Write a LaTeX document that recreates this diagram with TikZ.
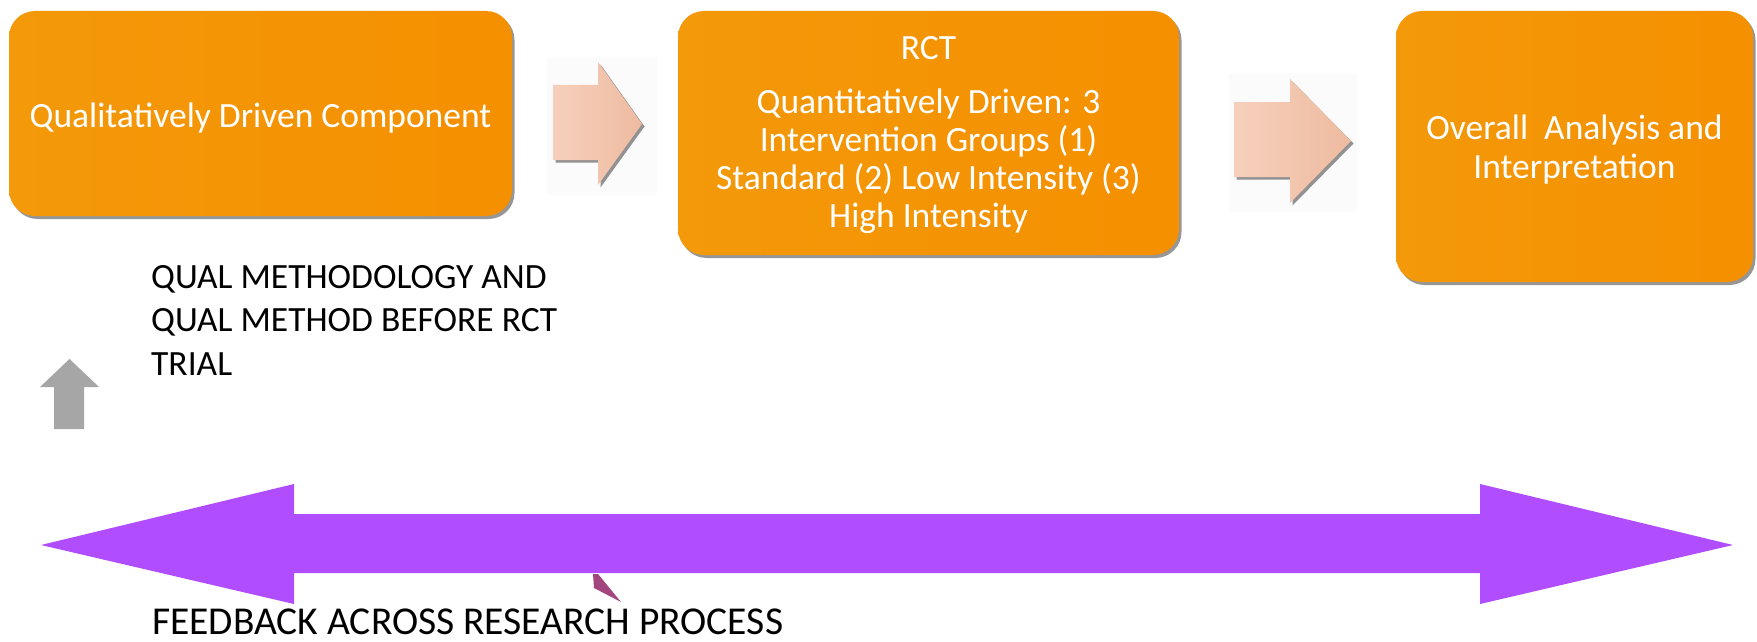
\documentclass[tikz,border=0pt]{standalone}
\usepackage{fontspec}
\setmainfont{Carlito}
\usetikzlibrary{shadows}

\definecolor{boxorange}{RGB}{243,153,10}
\definecolor{boxorangeR}{RGB}{245,144,0}
\definecolor{peach}{RGB}{246,208,189}
\definecolor{peachD}{RGB}{238,187,160}
\definecolor{arrowgray}{RGB}{166,166,166}
\definecolor{feedpurple}{RGB}{175,77,255}
\definecolor{pointer}{RGB}{163,70,127}

\begin{document}
\begin{tikzpicture}[x=1pt,y=-1pt,
  stagebox/.style={rounded corners=26pt, left color=boxorange, right color=boxorangeR,
    draw=none, inner sep=0pt,
    drop shadow={shadow xshift=2.5pt, shadow yshift=-3pt, opacity=0.55, fill=black!75}},
  stagetext/.style={text=white, align=center, inner sep=0pt,
    font=\fontsize{35.5}{38}\selectfont},
  blockarrow/.style={draw=none, left color=peach, right color=peachD,
    drop shadow={shadow xshift=2.5pt, shadow yshift=-2.5pt, opacity=0.6, fill=black!70}},
  arrowpad/.style={fill=black!1.5, draw=none},
  plainlabel/.style={text=black, inner sep=0pt, align=left,
    font=\fontsize{35.5}{43.5}\selectfont}
]
\useasboundingbox (0,0) rectangle (1757,642);

% the three stages: rounded boxes with their captions
\node[stagebox, minimum width=503pt, minimum height=205pt] (qual) at (260.5,113.5) {};
\node[stagetext] (qualtext) at ([yshift=-4.5pt]qual.center)
  {Qualitatively Driven Component};

\node[stagebox, minimum width=501pt, minimum height=244pt] (rct) at (928.5,133) {};
\node[stagetext] (rcttext) at ([yshift=-2.5pt]rct.center)
  {RCT\\[16pt]Quantitatively Driven: 3\\Intervention Groups (1)\\Standard (2) Low Intensity (3)\\High Intensity};

\node[stagebox, minimum width=357pt, minimum height=271pt] (overall) at (1574.5,146.5) {};
\node[stagetext, font=\fontsize{35.5}{39}\selectfont] (overalltext) at ([yshift=-3.5pt]overall.center)
  {Overall\ \ Analysis and\\Interpretation};

% block arrows between the stages
\fill[arrowpad] (547,57) rectangle (657,195);
\fill[arrowpad] (1229,73) rectangle (1357,212);
\path[blockarrow] (553,85) -- (598,85) -- (598,62) -- (642,124) -- (598,185) -- (598,160) -- (553,160) -- cycle;
\path[blockarrow] (1234,102) -- (1290,102) -- (1290,79) -- (1351,141) -- (1290,203) -- (1290,177) -- (1234,177) -- cycle;

% up arrow and its caption
\fill[arrowgray] (69.5,359) -- (99,387) -- (84,387) -- (84,429) -- (54,429) -- (54,387) -- (40,387) -- cycle;
\node[plainlabel, anchor=north west] (qualnote) at (151,265)
  {QUAL METHODOLOGY AND\\QUAL METHOD BEFORE RCT\\TRIAL};

% feedback double arrow
\fill[feedpurple] (41,545) -- (294,484) -- (294,514) -- (1480,514) -- (1480,484) -- (1733,545)
  -- (1480,604) -- (1480,573) -- (294,573) -- (294,604) -- cycle;
\fill[pointer] (593,574) -- (598,574) -- (621,602) -- (594,588) -- cycle;
\node[text=black, inner sep=0pt, anchor=base west, font=\fontsize{39.5}{44}\selectfont] (feedback) at (152,634)
  {FEEDBACK ACROSS RESEARCH PROCESS};
\end{tikzpicture}
\end{document}
